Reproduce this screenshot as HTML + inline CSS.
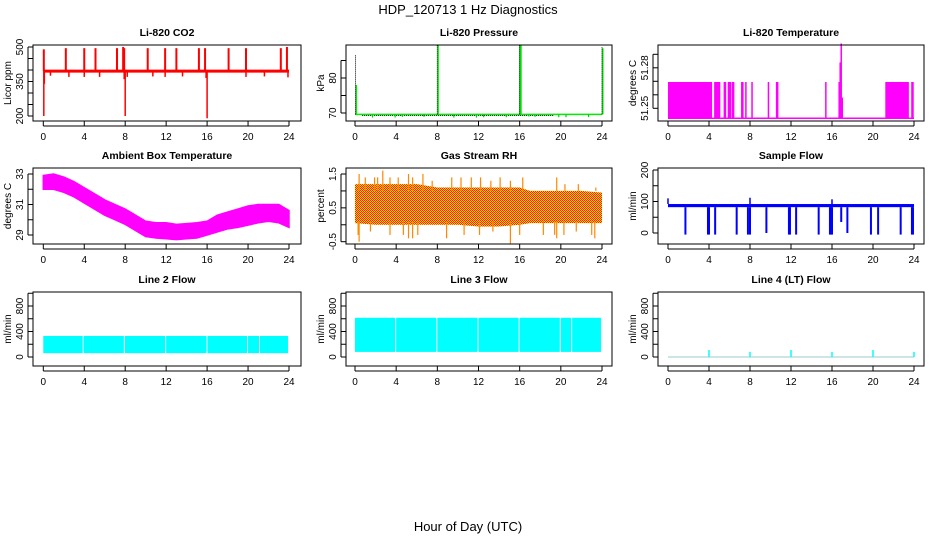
<!DOCTYPE html>
<html><head><meta charset="utf-8"><style>
html,body{margin:0;padding:0;background:#fff;}
svg{display:block;font-family:"Liberation Sans",sans-serif;}
</style></head><body>
<svg id="c" width="936" height="540" viewBox="0 0 936 540" xmlns="http://www.w3.org/2000/svg">
<defs>
<pattern id="rhpat" width="2" height="2" patternUnits="userSpaceOnUse">
<rect width="2" height="2" fill="#ffd000"/><rect width="1" height="1" fill="#ff2000"/><rect x="1" y="1" width="1" height="1" fill="#ff2000"/>
</pattern>
</defs>
<text x="468" y="14" text-anchor="middle" font-size="13">HDP_120713  1 Hz Diagnostics</text>
<text x="468" y="531" text-anchor="middle" font-size="13">Hour of Day (UTC)</text>
</svg>
<script>
const hourTicks=[0,4,8,12,16,20,24];
// CO2
const co2Base=395;
const co2SpikeHours=[0.05,2.2,4.0,5.1,7.2,7.8,7.9,10.2,11.9,13.0,15.2,15.8,18.1,19.8,23.2,23.8];
const co2SpikeVals=[490,495,495,495,495,500,495,495,495,495,495,495,495,495,495,500];
const co2DipHours=[0.05,0.1,0.7,2.5,4.0,5.5,7.9,8.0,8.2,10.7,11.9,13.6,15.9,16.0,19.8,21.6,23.9];
const co2DipVals=[200,340,375,370,370,370,360,200,370,372,370,372,365,190,370,372,368];
// Pressure
const presBase=69.6;
const presSpikeHours=[0.05,8.0,16.0,24.0];
const presSpikeVals=[86.5,89.5,89.5,89.0];
const presGreenTops=[78,89.5,89.5,88.5];
const presDipHours=[1.7,3.9,4.6,6.7,9.6,11.8,12.5,14.7,16.9,17.5,19.8,20.5,22.7];
const presDipVals=[68.7,68.7,68.9,68.9,68.7,68.7,68.8,68.8,69.0,68.9,68.8,68.8,68.8];
// Li-820 Temperature
const tempBase=51.2426;
const tempBlockVal=51.2695;
const tempBlockStarts=[0.0,4.5,21.2];
const tempBlockEnds=[4.3,5.1,23.5];
const tempLineHours=[5.5,5.6,5.9,6.0,6.1,6.3,6.4,7.2,7.3,7.6,8.2,9.8,10.6,10.7,15.4,16.7,23.8,23.9];
const tempPeakHours=[16.8,16.9,17.0];
const tempPeakVals=[51.284,51.298,51.258];
// Ambient box temperature
const ambHours=[0,1,2,3,4,5,6,7,8,9,10,11,12,13,14,15,16,17,18,19,20,21,22,23,24];
const ambHi=[32.9,33.0,32.8,32.5,32.1,31.7,31.3,31.0,30.7,30.3,29.9,29.8,29.8,29.7,29.75,29.8,29.9,30.3,30.5,30.7,30.9,31.0,31.0,31.0,30.6];
const ambLo=[32.0,32.0,31.8,31.5,31.1,30.7,30.3,30.0,29.7,29.3,28.9,28.8,28.75,28.7,28.75,28.8,29.0,29.2,29.4,29.5,29.65,29.8,29.9,29.8,29.5];
// Gas stream RH
const rhHours=[0,2,4,6,8,10,12,14,16,17,18,20,22,24];
const rhHi=[1.2,1.2,1.2,1.2,1.1,1.1,1.1,1.1,1.1,1.0,1.0,1.0,1.0,0.95];
const rhLo=[0.05,0.0,0.0,0.0,0.0,0.0,-0.05,-0.05,0.0,0.05,0.05,0.05,0.05,0.05];
const rhUpHours=[0.4,1.0,1.9,2.2,2.7,3.4,4.2,5.2,5.6,6.6,7.5,9.4,10.3,11.3,12.2,13.2,14.1,15.1,16.3,19.6,20.4,21.7,23.4];
const rhUpVals=[1.5,1.4,1.4,1.4,1.6,1.4,1.4,1.5,1.4,1.5,1.3,1.4,1.4,1.4,1.4,1.3,1.4,1.3,1.4,1.4,1.2,1.2,1.1];
const rhDnHours=[0.3,0.4,1.5,3.4,4.7,5.2,5.6,6.1,8.9,10.6,12.1,13.4,15.1,16.0,18.3,19.4,19.6,20.3,21.5,23.0,23.3];
const rhDnVals=[-0.3,-0.5,-0.2,-0.3,-0.3,-0.4,-0.4,-0.3,-0.4,-0.3,-0.3,-0.2,-0.55,-0.3,-0.3,-0.3,-0.4,-0.3,-0.2,-0.3,-0.4];
// Sample flow
const sampleHi=92, sampleLo=82;
const sampleDipHours=[1.7,3.9,4.0,4.6,6.7,7.8,8.0,9.6,11.8,11.9,12.5,14.7,15.8,15.9,16.0,16.9,17.5,19.8,20.5,22.7,23.8,23.9];
const sampleDipVals=[-5,-5,-5,-5,-5,-5,-5,0,-5,-5,-5,-5,-5,-5,-5,35,0,-5,-5,-5,-5,-5];
const sampleUpHours=[0.0,8.0,16.0];
const sampleUpVals=[110,112,107];
// Line flows
const l2Lo=60, l2Hi=330;
const l2Gaps=[3.85,7.87,11.9,15.94,19.9,21.07];
const l2End=23.9;
const l3Lo=80, l3Hi=615;
const l3Gaps=[3.9,7.9,11.9,15.9,19.9,21.0];
const l3End=23.9;
const l4Base=0;
const l4SpikeHours=[4,8,12,16,20,24];
const l4SpikeVals=[110,80,110,80,110,80];

const NS="http://www.w3.org/2000/svg";
const svg=document.getElementById('c');
const cols=[{l:33,r:301,a:43.3,b:289},{l:346,r:612,a:355,b:602},{l:658,r:924,a:668,b:914}];
const rows=[{t:45,b:121},{t:168,b:244},{t:292,b:366}];
function mk(tag,attrs,parent){const e=document.createElementNS(NS,tag);for(const k in attrs)e.setAttribute(k,attrs[k]);(parent||svg).appendChild(e);return e;}
function panel(ci,ri,name,title,ytitle,v1,p1,v2,p2,ticks,labels){
  const c=cols[ci],r=rows[ri];
  const g=mk('g',{});
  
  
  const X=h=>c.a+(c.b-c.a)*h/24;
  const Y=v=>p1+(v-v1)*(p2-p1)/(v2-v1);
  const t=mk('text',{x:(c.l+c.r)/2,y:r.t-9,'text-anchor':'middle','font-size':'10.5','font-weight':'bold'},g);
  t.textContent=title;
  
  
  const yt=mk('text',{transform:`translate(${c.l-22},${(r.t+r.b)/2}) rotate(-90)`,'text-anchor':'middle','font-size':'10'},g);
  yt.textContent=ytitle;
  
  
  const plot=mk('g',{},g);
  
  
  const box=mk('rect',{x:c.l,y:r.t,width:c.r-c.l,height:r.b-r.t,fill:'none',stroke:'#000','stroke-width':1},g);
  
  
  hourTicks.forEach(h=>{
    mk('line',{x1:X(h),x2:X(h),y1:r.b,y2:r.b+5,stroke:'#000'},g);
    const tx=mk('text',{x:X(h),y:r.b+19,'text-anchor':'middle','font-size':'10'},g);
    tx.textContent=h;
    
    
  });
  mk('line',{x1:X(0),x2:X(24),y1:r.b+5,y2:r.b+5,stroke:'#000'},g);
  ticks.forEach(v=>{mk('line',{x1:c.l-5,x2:c.l,y1:Y(v),y2:Y(v),stroke:'#000'},g);});
  mk('line',{x1:c.l-5,x2:c.l-5,y1:Y(ticks[0]),y2:Y(ticks[ticks.length-1]),stroke:'#000'},g);
  labels.forEach(v=>{
    const tl=mk('text',{transform:`translate(${c.l-10},${Y(v)}) rotate(-90)`,'text-anchor':'middle','font-size':'10'},g);
    tl.textContent=v;
    
    
  });
  return {X,Y,g:plot};
}
function ln(p,x1,y1,x2,y2,col,w,name,extra){const e=mk('line',Object.assign({x1,y1,x2,y2,stroke:col,'stroke-width':w},extra||{}),p.g);return e;}

// CO2
let p=panel(0,0,'co2','Li-820 CO2','Licor ppm',500,47,200,116,[200,250,300,350,400,450,500],[200,350,500]);
co2SpikeHours.forEach((h,i)=>ln(p,p.X(h),p.Y(co2Base),p.X(h),p.Y(co2SpikeVals[i]),'#f00',2,'co2-spike'));
co2DipHours.forEach((h,i)=>ln(p,p.X(h),p.Y(co2Base),p.X(h),p.Y(co2DipVals[i]),'#f00',1.5,'co2-dip'));
ln(p,p.X(0),p.Y(co2Base),p.X(24),p.Y(co2Base),'#f00',3,'co2-line');

// Pressure
p=panel(1,0,'pressure','Li-820 Pressure','kPa',70,113,80,78,[70,75,80,85],[70,80]);
ln(p,p.X(0),p.Y(presBase),p.X(24),p.Y(presBase),'#0e0',1.5,'pressure-line');
ln(p,p.X(0.7),p.Y(69.3),p.X(19.3),p.Y(69.3),'#000',1,'pressure-noise',{'stroke-dasharray':'1 1'});
presDipHours.forEach((h,i)=>ln(p,p.X(h),p.Y(presBase),p.X(h),p.Y(presDipVals[i]),'#0c0',1.2,'pressure-dip'));
presSpikeHours.forEach((h,i)=>{ln(p,p.X(h)+0.8,p.Y(presBase),p.X(h)+0.8,p.Y(presGreenTops[i]),'#0e0',h===16?2.5:1.5,'pressure-spike-green');ln(p,p.X(h),p.Y(presBase),p.X(h),p.Y(presSpikeVals[i]),'#000',1,'pressure-spike',{'stroke-dasharray':'1 1'});});

// Temperature
p=panel(2,0,'li820-temp','Li-820 Temperature','degrees C',51.25,108.3,51.28,67.8,[51.25,51.26,51.27,51.28,51.29],[51.25,51.28]);
tempBlockStarts.forEach((s,i)=>{const e=mk('rect',{x:p.X(s),y:p.Y(tempBlockVal),width:p.X(tempBlockEnds[i])-p.X(s),height:p.Y(tempBase)-p.Y(tempBlockVal),fill:'#f0f'},p.g);});
tempLineHours.forEach(h=>ln(p,p.X(h),p.Y(tempBase),p.X(h),p.Y(tempBlockVal),'#f0f',1.5,'temp-line'));
tempPeakHours.forEach((h,i)=>ln(p,p.X(h),p.Y(tempBase),p.X(h),p.Y(tempPeakVals[i]),'#f0f',1.5,'temp-peak'));
ln(p,p.X(0),p.Y(tempBase),p.X(24),p.Y(tempBase),'#f0f',1.5,'temp-baseline');

// Ambient
p=panel(0,1,'ambient-temp','Ambient Box Temperature','degrees C',33,174,29,235,[29,30,31,32,33],[29,31,33]);
{let pts=ambHours.map((h,i)=>p.X(h)+','+p.Y(ambHi[i]));for(let i=ambHours.length-1;i>=0;i--)pts.push(p.X(ambHours[i])+','+p.Y(ambLo[i]));
const e=mk('polygon',{points:pts.join(' '),fill:'#f0f',stroke:'#f0f','stroke-width':1.5},p.g);}

// RH
p=panel(1,1,'rh','Gas Stream RH','percent',1.5,174,-0.5,241.7,[-0.5,0,0.5,1,1.5],[-0.5,0.5,1.5]);
{let pts=rhHours.map((h,i)=>p.X(h)+','+p.Y(rhHi[i]));for(let i=rhHours.length-1;i>=0;i--)pts.push(p.X(rhHours[i])+','+p.Y(rhLo[i]));
const e=mk('polygon',{points:pts.join(' '),fill:'url(#rhpat)'},p.g);}
rhUpHours.forEach((h,i)=>ln(p,p.X(h),p.Y(1.0),p.X(h),p.Y(rhUpVals[i]),'#f80',1.2,'rh-spike-up'));
rhDnHours.forEach((h,i)=>ln(p,p.X(h),p.Y(0.1),p.X(h),p.Y(rhDnVals[i]),'#f80',1.2,'rh-spike-down'));

// Sample flow
p=panel(2,1,'sample-flow','Sample Flow','ml/min',0,233,200,170,[0,50,100,150,200],[0,100,200]);
{const e=mk('rect',{x:p.X(0),y:p.Y(sampleHi),width:p.X(24)-p.X(0),height:p.Y(sampleLo)-p.Y(sampleHi),fill:'#00f'},p.g);}
sampleDipHours.forEach((h,i)=>ln(p,p.X(h),p.Y(sampleLo),p.X(h),p.Y(sampleDipVals[i]),'#00f',2,'sample-flow-dip'));
sampleUpHours.forEach((h,i)=>ln(p,p.X(h),p.Y(sampleHi),p.X(h),p.Y(sampleUpVals[i]),'#00f',1.5,'sample-flow-spike'));

// Line 2 / Line 3
function bands(p,gaps,end,lo,hi,name){const b=[0].concat(gaps);b.forEach((s,i)=>{const e2=i<gaps.length?gaps[i]:end;const e=mk('rect',{x:p.X(s)+(i?1:0),y:p.Y(hi),width:p.X(e2)-p.X(s)-(i?1:0),height:p.Y(lo)-p.Y(hi),fill:'#0ff'},p.g);});}
const fTicks=[0,200,400,600,800,1000], fLab=[0,400,800];
p=panel(0,2,'line2-flow','Line 2 Flow','ml/min',0,357,800,306,fTicks,fLab);
bands(p,l2Gaps,l2End,l2Lo,l2Hi,'line2-flow-band');
p=panel(1,2,'line3-flow','Line 3 Flow','ml/min',0,357,800,306,fTicks,fLab);
bands(p,l3Gaps,l3End,l3Lo,l3Hi,'line3-flow-band');
p=panel(2,2,'line4-flow','Line 4 (LT) Flow','ml/min',0,357,800,306,fTicks,fLab);
ln(p,p.X(0),p.Y(l4Base),p.X(24),p.Y(l4Base),'#9cc',1,'line4-flow-line');
l4SpikeHours.forEach((h,i)=>ln(p,p.X(h),p.Y(l4Base),p.X(h),p.Y(l4SpikeVals[i]),'#0ff',1.5,'line4-flow-spike'));
</script>
</body></html>
